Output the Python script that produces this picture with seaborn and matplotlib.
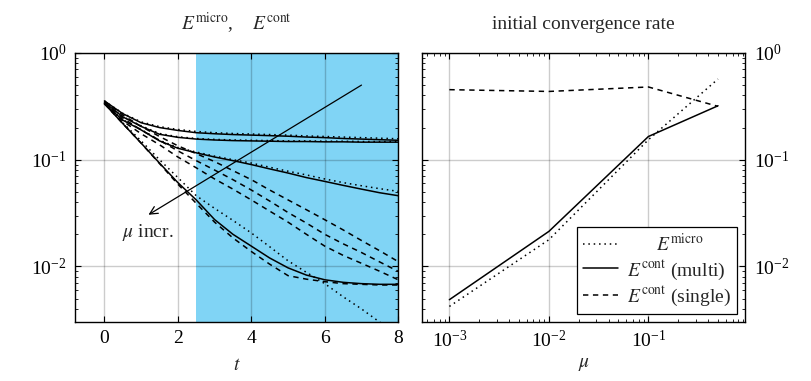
import numpy as np
import pandas as pd
import matplotlib
matplotlib.use("Agg")
import matplotlib.pyplot as plt
import seaborn as sns
from matplotlib.lines import Line2D
from matplotlib.ticker import LogLocator, NullFormatter

# time samples of the error curves (left panel)
t = [0, 0.5, 1, 1.5, 2, 2.5, 3, 3.5, 4, 4.5, 5, 5.5, 6, 6.5, 7, 7.5, 8]
mu_names = ["1e-3", "1e-2", "1e-1", "5e-1"]

# E^micro (dotted)
micro_1e3 = [0.355, 0.272, 0.226, 0.204, 0.192, 0.184, 0.179, 0.176, 0.174, 0.172, 0.170, 0.167, 0.165, 0.163, 0.161, 0.159, 0.157]
micro_1e2 = [0.345, 0.254, 0.208, 0.176, 0.164, 0.158, 0.155, 0.153, 0.152, 0.151, 0.150, 0.150, 0.149, 0.149, 0.148, 0.148, 0.148]
micro_1e1 = [0.335, 0.237, 0.192, 0.152, 0.130, 0.118, 0.108, 0.100, 0.093, 0.085, 0.078, 0.072, 0.066, 0.061, 0.057, 0.0535, 0.0505]
micro_5e1 = [0.335, 0.222, 0.150, 0.100, 0.068, 0.046, 0.035, 0.027, 0.0206, 0.0153, 0.0113, 0.0088, 0.0069, 0.0052, 0.0040, 0.0030, 0.0023]

# E^cont multi (solid)
multi_1e3 = [0.355, 0.270, 0.222, 0.200, 0.188, 0.179, 0.175, 0.172, 0.170, 0.168, 0.166, 0.163, 0.161, 0.158, 0.156, 0.154, 0.152]
multi_1e2 = [0.345, 0.252, 0.205, 0.173, 0.162, 0.156, 0.153, 0.151, 0.150, 0.149, 0.148, 0.148, 0.147, 0.147, 0.146, 0.146, 0.146]
multi_1e1 = [0.335, 0.235, 0.190, 0.150, 0.128, 0.116, 0.106, 0.098, 0.090, 0.082, 0.075, 0.068, 0.0626, 0.0575, 0.053, 0.049, 0.046]
multi_5e1 = [0.335, 0.218, 0.143, 0.093, 0.061, 0.042, 0.0275, 0.020, 0.0155, 0.012, 0.0097, 0.0083, 0.0075, 0.0071, 0.0069, 0.0068, 0.0068]

# E^cont single (dashed)
single_1e3 = [0.355, 0.262, 0.205, 0.165, 0.135, 0.114, 0.096, 0.079, 0.065, 0.052, 0.042, 0.034, 0.0274, 0.022, 0.0175, 0.014, 0.0111]
single_1e2 = [0.345, 0.245, 0.190, 0.152, 0.121, 0.098, 0.080, 0.065, 0.052, 0.041, 0.032, 0.0255, 0.020, 0.0163, 0.0135, 0.011, 0.0090]
single_1e1 = [0.335, 0.230, 0.175, 0.138, 0.106, 0.084, 0.066, 0.053, 0.042, 0.033, 0.026, 0.020, 0.0155, 0.0127, 0.0107, 0.0090, 0.0075]
single_5e1 = [0.335, 0.218, 0.143, 0.092, 0.059, 0.039, 0.026, 0.0185, 0.0138, 0.0105, 0.0082, 0.0076, 0.0072, 0.0069, 0.0068, 0.0067, 0.0067]

# initial convergence rate (right panel)
mu = [1e-3, 1e-2, 1e-1, 0.5]
rate_micro = [0.00422, 0.0178, 0.154, 0.57]
rate_multi = [0.00488, 0.0213, 0.165, 0.32]
rate_single = [0.453, 0.436, 0.48, 0.316]

curves = {
    "micro": [micro_1e3, micro_1e2, micro_1e1, micro_5e1],
    "multi": [multi_1e3, multi_1e2, multi_1e1, multi_5e1],
    "single": [single_1e3, single_1e2, single_1e1, single_5e1],
}
rows = []
for model, lst in curves.items():
    for name, vals in zip(mu_names, lst):
        for tt, v in zip(t, vals):
            rows.append((model, name, tt, v))
df = pd.DataFrame(rows, columns=["model", "mu", "t", "E"])

rate_df = pd.DataFrame({"mu": mu * 3,
                        "rate": rate_micro + rate_multi + rate_single,
                        "model": ["micro"] * 4 + ["multi"] * 4 + ["single"] * 4})

styles = {"micro": (0, (1, 2.5)), "multi": "-", "single": (0, (3.5, 3))}

sns.set_style("white")
plt.rcParams["font.family"] = ["Liberation Serif", "DejaVu Serif"]
plt.rcParams["mathtext.fontset"] = "stix"
plt.rcParams["font.size"] = 14
plt.rcParams["axes.edgecolor"] = "black"
plt.rcParams["axes.linewidth"] = 1.0

fig = plt.figure(figsize=(8.12, 3.81), dpi=100)
ax1 = fig.add_axes([0.0924, 0.155, 0.398, 0.706])
ax2 = fig.add_axes([0.5197, 0.155, 0.398, 0.706])

# left panel
ax1.axvspan(2.5, 8, color="#80d4f5", lw=0, zorder=0)
for model in ["micro", "multi", "single"]:
    sns.lineplot(data=df[df["model"] == model], x="t", y="E", units="mu",
                 estimator=None, color="black", lw=1.1,
                 linestyle=styles[model], ax=ax1, zorder=3)
ax1.set_yscale("log")
ax1.set_xlim(-0.8, 8)
ax1.set_ylim(10 ** -2.52, 1)
ax1.set_xticks([0, 2, 4, 6, 8])
ax1.annotate("", xy=(1.2, 0.0305), xytext=(7.0, 0.5),
             arrowprops=dict(arrowstyle="->", lw=0.9, color="black",
                             shrinkA=0, shrinkB=0), zorder=4)
ax1.text(1.17, 0.0207, r"$\mu$ incr.", ha="center", va="center", fontsize=14)
ax1.set_title(r"$E^{\mathrm{micro}}$,    $E^{\mathrm{cont}}$", fontsize=14, pad=17)
ax1.set_xlabel(r"$t$", fontsize=14, labelpad=7)
ax1.set_ylabel("")

# right panel
for model in ["micro", "multi", "single"]:
    sns.lineplot(data=rate_df[rate_df["model"] == model], x="mu", y="rate",
                 color="black", lw=1.1, linestyle=styles[model], ax=ax2, zorder=3)
ax2.set_xscale("log")
ax2.set_yscale("log")
ax2.set_xlim(10 ** -3.275, 10 ** -0.028)
ax2.set_ylim(10 ** -2.52, 1)
ax2.set_xticks([1e-3, 1e-2, 1e-1])
ax2.set_title("initial convergence rate", fontsize=14, pad=17)
ax2.set_xlabel(r"$\mu$", fontsize=14, labelpad=3)
ax2.set_ylabel("")

handles = [Line2D([], [], color="black", lw=1.1, linestyle=styles["micro"]),
           Line2D([], [], color="black", lw=1.1, linestyle=styles["multi"]),
           Line2D([], [], color="black", lw=1.1, linestyle=styles["single"])]
labels = [r"      $E^{\mathrm{micro}}$", r"$E^{\mathrm{cont}}$ (multi)", r"$E^{\mathrm{cont}}$ (single)"]
leg = ax2.legend(handles, labels, loc="lower right", fancybox=False, framealpha=1,
                 edgecolor="black", fontsize=14, handlelength=1.8, borderpad=0.3,
                 labelspacing=0.15, handletextpad=0.5, borderaxespad=0.4)
leg.get_frame().set_linewidth(0.9)
leg.set_zorder(5)

for ax in (ax1, ax2):
    ax.grid(True, which="major", color="black", alpha=0.2, lw=1.0, zorder=1)
    ax.set_axisbelow(False)
    ax.yaxis.set_major_locator(LogLocator(base=10, numticks=10))
    ax.yaxis.set_minor_locator(LogLocator(base=10, subs=np.arange(2, 10), numticks=20))
    ax.yaxis.set_minor_formatter(NullFormatter())
    ax.tick_params(which="both", direction="in", top=True, bottom=True,
                   left=True, right=True, colors="black", labelsize=14)
    ax.tick_params(which="major", length=4, width=0.8, pad=6)
    ax.tick_params(which="minor", length=2.5, width=0.6)
    for s in ax.spines.values():
        s.set_color("black")
        s.set_zorder(6)

ax2.xaxis.set_minor_locator(LogLocator(base=10, subs=np.arange(2, 10), numticks=20))
ax2.xaxis.set_minor_formatter(NullFormatter())
ax2.tick_params(labelleft=False, labelright=True)

fig.savefig("out.png", dpi=100)
